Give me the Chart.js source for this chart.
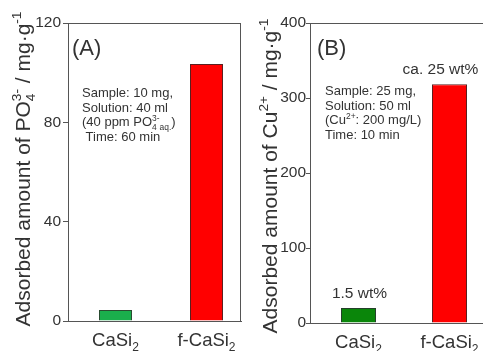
<!DOCTYPE html>
<html>
<head>
<meta charset="utf-8">
<script src="https://cdn.jsdelivr.net/npm/chart.js@4.4.1/dist/chart.umd.min.js"></script>
<style>
  html, body { margin: 0; padding: 0; background: #fff; overflow: hidden; width: 483px; height: 351px; }
  .panel { position: absolute; top: 0; height: 351px; }
  #boxA { left: 0; width: 244px; }
  #boxB { left: 245px; width: 258px; }
</style>
</head>
<body>
<div class="panel" id="boxA"><canvas id="chartA"></canvas></div>
<div class="panel" id="boxB"><canvas id="chartB"></canvas></div>
<script>
// categories and their x positions (linear x axis)
var categories = ['CaSi_{2}', 'f-CaSi_{2}'];
var xPos = [1, 2];

// (A) PO4 3- adsorption, (B) Cu2+ adsorption
var phosphateValues = [4.4, 103.5];
var copperValues = [20, 318.5];
var copperLabels = ['1.5 wt%', 'ca. 25 wt%'];

var phosphateTicks = [0, 40, 80, 120];
var copperTicks = [0, 100, 200, 300, 400];

var FONT = "'Liberation Sans', Arial, sans-serif";
var TXT = '#333';

// tiny rich text: _{sub} and ^{sup}
function parseRich(s) {
  var re = /_\{([^}]*)\}|\^\{([^}]*)\}|([^_^]+)/g, m, out = [];
  while ((m = re.exec(s)) !== null) {
    if (m[1] !== undefined) out.push({t: m[1], k: 'sub'});
    else if (m[2] !== undefined) out.push({t: m[2], k: 'sup'});
    else out.push({t: m[3], k: 'n'});
  }
  return out;
}

function layoutRich(ctx, s, size) {
  var segs = parseRich(s), x = 0, subStart = null, subW = 0;
  segs.forEach(function(sg, i) {
    var fs = sg.k === 'n' ? size : size * 0.65;
    ctx.font = fs + 'px ' + FONT;
    var w = ctx.measureText(sg.t).width;
    if (sg.k === 'sup' && i > 0 && segs[i - 1].k === 'sub') {
      sg.x = subStart;
      x = subStart + Math.max(subW, w);
    } else {
      sg.x = x;
      if (sg.k === 'sub') { subStart = x; subW = w; }
      x += w;
    }
    sg.fs = fs;
    sg.dy = sg.k === 'sub' ? size * 0.25 : (sg.k === 'sup' ? -size * 0.42 : 0);
  });
  return {segs: segs, width: x};
}

function drawRich(ctx, s, x, y, size, align) {
  var lay = layoutRich(ctx, s, size);
  var x0 = align === 'center' ? x - lay.width / 2 : (align === 'right' ? x - lay.width : x);
  ctx.save();
  ctx.fillStyle = TXT;
  ctx.textBaseline = 'alphabetic';
  ctx.textAlign = 'left';
  lay.segs.forEach(function(sg) {
    ctx.font = sg.fs + 'px ' + FONT;
    ctx.fillText(sg.t, x0 + sg.x, y + sg.dy);
  });
  ctx.restore();
}

var decorPlugin = {
  id: 'decor',
  afterDraw: function(chart) {
    var o = chart.options.plugins.decor;
    var ctx = chart.ctx, a = chart.chartArea;
    var xs = chart.scales.x, ys = chart.scales.y;

    // frame: top and right
    ctx.save();
    ctx.strokeStyle = '#555';
    ctx.lineWidth = 1;
    ctx.beginPath();
    ctx.moveTo(a.left, a.top + 0.5);
    ctx.lineTo(a.right, a.top + 0.5);
    ctx.moveTo(a.right - 0.5, a.top);
    ctx.lineTo(a.right - 0.5, a.bottom);
    ctx.stroke();
    ctx.restore();

    // rotated y title
    ctx.save();
    ctx.translate(o.titleX, o.titleY);
    ctx.rotate(-Math.PI / 2);
    drawRich(ctx, o.title, 0, 0, 21, 'center');
    ctx.restore();

    // category labels
    categories.forEach(function(c, i) {
      drawRich(ctx, c, xs.getPixelForValue(xPos[i]), a.bottom + 25, 18.5, 'center');
    });

    // panel letter
    drawRich(ctx, o.letter, a.left + o.letterDx, a.top + 32, 22, 'left');

    // condition text
    o.info.forEach(function(line, i) {
      drawRich(ctx, line, a.left + o.infoDx, a.top + o.infoDy + i * 14.7, 13, 'left');
    });

    // labels above bars
    if (o.barLabels) {
      o.barLabels.forEach(function(t, i) {
        drawRich(ctx, t, xs.getPixelForValue(xPos[i]) + o.labelDx[i], ys.getPixelForValue(o.values[i]) - 10, 15.5, 'center');
      });
    }
  }
};

function makeChart(id, values, ticks, yMax, xMin, xMax, yWidth, xHeight, pad, tickLen, tickPad, colors, borders, barPct, decor) {
  return new Chart(document.getElementById(id).getContext('2d'), {
    type: 'bar',
    data: {
      datasets: [{
        data: values.map(function(v, i) { return {x: xPos[i], y: v}; }),
        backgroundColor: colors,
        borderColor: borders,
        borderWidth: 1,
        categoryPercentage: 1,
        barPercentage: barPct
      }]
    },
    options: {
      responsive: true,
      maintainAspectRatio: false,
      animation: false,
      events: [],
      layout: { padding: pad },
      plugins: {
        legend: { display: false },
        tooltip: { enabled: false },
        decor: decor
      },
      scales: {
        x: {
          type: 'linear',
          offset: false,
          min: xMin, max: xMax,
          afterBuildTicks: function(s) { s.ticks = xPos.map(function(v) { return {value: v}; }); },
          afterFit: function(s) { s.height = xHeight; },
          ticks: { display: false },
          grid: { display: false },
          border: { display: true, color: '#555', width: 1 }
        },
        y: {
          min: 0, max: yMax,
          afterBuildTicks: function(s) { s.ticks = ticks.map(function(v) { return {value: v}; }); },
          afterFit: function(s) { s.width = yWidth; },
          ticks: { color: TXT, padding: tickPad, font: { family: FONT, size: 15.5 } },
          grid: { drawOnChartArea: false, drawTicks: true, tickLength: tickLen, color: '#555' },
          border: { display: true, color: '#555', width: 1 }
        }
      }
    },
    plugins: [decorPlugin]
  });
}

makeChart('chartA', phosphateValues, phosphateTicks, 120, 0.478, 2.379, 68, 30,
  {top: 23, right: 3, bottom: 0, left: 0}, 5, 2,
  ['#1aae4c', '#ff0000'], ['#2a4a30', '#5a2020'], 0.363,
  {
    title: 'Adsorbed amount of PO_{4}^{3-} / mg·g^{-1}',
    titleX: 30, titleY: 169,
    letter: '(A)', letterDx: 4,
    info: ['Sample: 10 mg,', 'Solution: 40 ml', '(40 ppm PO_{4}^{3-}_{aq.})', ' Time: 60 min'],
    infoDx: 14, infoDy: 74,
    values: phosphateValues
  });

makeChart('chartB', copperValues, copperTicks, 400, 0.467, 2.588, 65, 28,
  {top: 23, right: 0, bottom: 0, left: 0}, 4, 0,
  ['#0a860a', '#ff0000'], ['#24402a', '#5a2020'], 0.385,
  {
    title: 'Adsorbed amount of Cu^{2+} / mg·g^{-1}',
    titleX: 32, titleY: 176,
    letter: '(B)', letterDx: 7,
    info: ['Sample: 25 mg,', 'Solution: 50 ml', '(Cu^{2+}: 200 mg/L)', 'Time: 10 min'],
    infoDx: 15, infoDy: 72,
    barLabels: copperLabels,
    labelDx: [1, -9],
    values: copperValues
  });
</script>
</body>
</html>
